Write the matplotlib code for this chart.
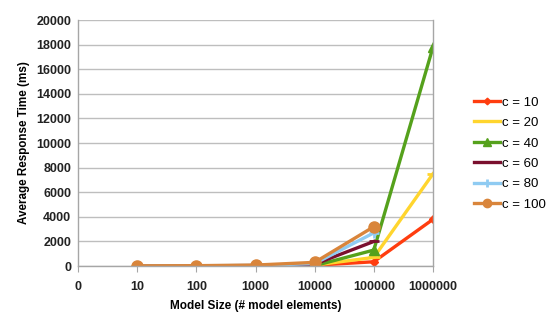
import matplotlib.pyplot as plt

# categories on the x axis (first one carries no data)
categories = ["0", "10", "100", "1000", "10000", "100000", "1000000"]
sizes = ["10", "100", "1000", "10000", "100000", "1000000"]

c10 = [10, 15, 20, 60, 350, 3800]
c20 = [10, 15, 25, 80, 700, 7500]
c40 = [10, 15, 30, 30, 1300, 17800]
c60 = [15, 20, 40, 150, 2000]
c80 = [15, 25, 50, 200, 2700]
c100 = [20, 30, 80, 300, 3200]

series = [
    ("c = 10", c10, "#FF3D0F", "D", 4.5),
    ("c = 20", c20, "#FFD52E", "_", 8),
    ("c = 40", c40, "#55A11C", "^", 7),
    ("c = 60", c60, "#7A0F2E", "_", 7),
    ("c = 80", c80, "#8FCBF2", "+", 7),
    ("c = 100", c100, "#D9853B", "o", 8),
]

plt.rcParams["font.family"] = ["Liberation Sans", "DejaVu Sans"]

fig = plt.figure(figsize=(5.47, 3.13), dpi=100)
ax = fig.add_axes([0.1426, 0.150, 0.6490, 0.786])

for label, vals, color, marker, ms in series:
    xs = [categories.index(s) for s in sizes[: len(vals)]]
    ax.plot(xs, vals, color=color, linewidth=2.4, marker=marker, markersize=ms,
            markeredgewidth=2 if marker in ("_", "+") else 1, markeredgecolor=color,
            label=label, solid_joinstyle="miter")

ax.set_xlim(0, len(categories) - 1)
ax.set_ylim(0, 20000)
ax.set_xticks(range(len(categories)))
ax.set_xticklabels(categories)
ax.set_yticks(range(0, 20001, 2000))
ax.yaxis.grid(True, color="#BEBEBE", linewidth=1)
ax.set_axisbelow(True)

ax.spines["top"].set_visible(False)
for side in ["left", "bottom", "right"]:
    ax.spines[side].set_color("#A6A6A6")
    ax.spines[side].set_linewidth(1)

ax.tick_params(axis="x", length=4, color="#A6A6A6", labelsize=9, pad=7)
ax.tick_params(axis="y", length=0, labelsize=9, pad=5)
for t in ax.get_xticklabels() + ax.get_yticklabels():
    t.set_fontweight("bold")
    t.set_color("#222222")

ax.set_xlabel("Model Size (# model elements)", fontsize=8.5, fontweight="bold", labelpad=5)
ax.set_ylabel("Average Response Time (ms)", fontsize=8.4, fontweight="bold", labelpad=4)

leg = ax.legend(loc="center left", bbox_to_anchor=(1.115, 0.457), frameon=False,
                borderaxespad=0, borderpad=0, fontsize=9.5, handlelength=2.0,
                handletextpad=0.15, labelspacing=0.62, markerscale=0.75)

fig.savefig("out.png", dpi=100)
